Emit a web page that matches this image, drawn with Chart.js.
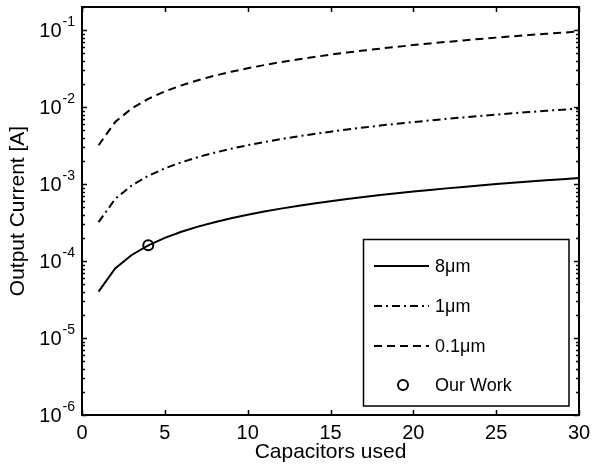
<!DOCTYPE html>
<html>
<head>
<meta charset="utf-8">
<script src="https://cdn.jsdelivr.net/npm/chart.js@4/dist/chart.umd.min.js"></script>
<style>
  html, body { margin: 0; padding: 0; background: #fff; }
  canvas { display: block; }
</style>
</head>
<body>
<canvas id="chart" width="592" height="466"></canvas>
<script>
// nombre de capacités (axe x)
const capacitors = [1, 2, 3, 4, 5, 6, 7, 8, 9, 10, 11, 12, 13, 14, 15,
                    16, 17, 18, 19, 20, 21, 22, 23, 24, 25, 26, 27, 28, 29, 30];

// courant de sortie [A]
const current8um = [4.0e-5, 8.0e-5, 1.2e-4, 1.6e-4, 2.0e-4, 2.4e-4, 2.8e-4, 3.2e-4, 3.6e-4, 4.0e-4,
                    4.4e-4, 4.8e-4, 5.2e-4, 5.6e-4, 6.0e-4, 6.4e-4, 6.8e-4, 7.2e-4, 7.6e-4, 8.0e-4,
                    8.4e-4, 8.8e-4, 9.2e-4, 9.6e-4, 1.0e-3, 1.04e-3, 1.08e-3, 1.12e-3, 1.16e-3, 1.2e-3];
const current1um = [3.2e-4, 6.4e-4, 9.6e-4, 1.28e-3, 1.6e-3, 1.92e-3, 2.24e-3, 2.56e-3, 2.88e-3, 3.2e-3,
                    3.52e-3, 3.84e-3, 4.16e-3, 4.48e-3, 4.8e-3, 5.12e-3, 5.44e-3, 5.76e-3, 6.08e-3, 6.4e-3,
                    6.72e-3, 7.04e-3, 7.36e-3, 7.68e-3, 8.0e-3, 8.32e-3, 8.64e-3, 8.96e-3, 9.28e-3, 9.6e-3];
const current01um = [3.2e-3, 6.4e-3, 9.6e-3, 0.0128, 0.016, 0.0192, 0.0224, 0.0256, 0.0288, 0.032,
                     0.0352, 0.0384, 0.0416, 0.0448, 0.048, 0.0512, 0.0544, 0.0576, 0.0608, 0.064,
                     0.0672, 0.0704, 0.0736, 0.0768, 0.08, 0.0832, 0.0864, 0.0896, 0.0928, 0.096];

// point "Our Work"
const ourWorkX = [4];
const ourWorkY = [1.6e-4];

// graduations
const xTicks = [0, 5, 10, 15, 20, 25, 30];
const yDecades = [-6, -5, -4, -3, -2, -1];

const seriesLabels = ['8\u03bcm', '1\u03bcm', '0.1\u03bcm', 'Our Work'];

const FONT = '"Liberation Sans", Arial, Helvetica, sans-serif';

function toPoints(xs, ys) {
    return xs.map((x, i) => ({ x: x, y: ys[i] }));
}

// ======================================================
// Cadre, graduations internes, labels 10^n et légende
// ======================================================
const matlabAxes = {
    id: 'matlabAxes',
    afterDatasetsDraw(chart) {
        const ctx = chart.ctx;
        const area = chart.chartArea;
        const xs = chart.scales.x;
        const ys = chart.scales.y;

        ctx.save();
        ctx.strokeStyle = '#000';
        ctx.lineWidth = 2;
        ctx.setLineDash([]);
        ctx.strokeRect(area.left, area.top, area.right - area.left, area.bottom - area.top);

        ctx.lineWidth = 1.5;
        ctx.beginPath();
        // ticks x (bas + haut)
        xTicks.forEach(v => {
            const px = Math.round(xs.getPixelForValue(v)) + 0.5;
            ctx.moveTo(px, area.bottom); ctx.lineTo(px, area.bottom - 5);
            ctx.moveTo(px, area.top); ctx.lineTo(px, area.top + 5);
        });
        // ticks y majeurs + mineurs (gauche + droite)
        yDecades.forEach(e => {
            for (let m = 1; m <= 9; m++) {
                const v = m * Math.pow(10, e);
                if (v > ys.max + 1e-12) continue;
                const py = Math.round(ys.getPixelForValue(v)) + 0.5;
                const len = m === 1 ? 5 : 3;
                ctx.moveTo(area.left, py); ctx.lineTo(area.left + len, py);
                ctx.moveTo(area.right, py); ctx.lineTo(area.right - len, py);
            }
        });
        ctx.stroke();

        // labels 10^n
        ctx.fillStyle = '#000';
        ctx.textAlign = 'right';
        ctx.textBaseline = 'middle';
        yDecades.forEach(e => {
            const py = ys.getPixelForValue(Math.pow(10, e));
            const sup = String(e);
            ctx.font = '14px ' + FONT;
            const supW = ctx.measureText(sup).width;
            const xr = area.left - 7;
            ctx.fillText(sup, xr, py - 8);
            ctx.font = '20px ' + FONT;
            ctx.fillText('10', xr - supW - 1, py + 1);
        });

        // légende
        const box = { left: 363.5, top: 239.5, right: 569, bottom: 406 };
        ctx.fillStyle = '#fff';
        ctx.fillRect(box.left, box.top, box.right - box.left, box.bottom - box.top);
        ctx.lineWidth = 1.5;
        ctx.strokeRect(box.left, box.top, box.right - box.left, box.bottom - box.top);

        const rows = [266, 306, 346, 385];
        ctx.font = '18px ' + FONT;
        ctx.textAlign = 'left';
        chart.data.datasets.forEach((ds, i) => {
            const y = rows[i];
            if (ds.showLine === false) {
                ctx.setLineDash([]);
                ctx.lineWidth = ds.borderWidth;
                ctx.beginPath();
                ctx.arc(403, y, ds.pointRadius, 0, Math.PI * 2);
                ctx.stroke();
            } else {
                ctx.setLineDash(ds.borderDash || []);
                ctx.lineWidth = ds.borderWidth;
                ctx.beginPath();
                ctx.moveTo(374, y);
                ctx.lineTo(429, y);
                ctx.stroke();
            }
            ctx.setLineDash([]);
            ctx.fillStyle = '#000';
            ctx.fillText(ds.label, 435, y + 1);
        });
        ctx.restore();
    }
};

const ctx = document.getElementById('chart').getContext('2d');

new Chart(ctx, {
    type: 'line',
    data: {
        datasets: [
            {
                label: seriesLabels[0],
                data: toPoints(capacitors, current8um),
                borderColor: '#000',
                borderWidth: 2,
                pointRadius: 0,
                fill: false,
                tension: 0
            },
            {
                label: seriesLabels[1],
                data: toPoints(capacitors, current1um),
                borderColor: '#000',
                borderWidth: 2,
                borderDash: [8, 4, 2, 4],
                pointRadius: 0,
                fill: false,
                tension: 0
            },
            {
                label: seriesLabels[2],
                data: toPoints(capacitors, current01um),
                borderColor: '#000',
                borderWidth: 2,
                borderDash: [8, 5],
                pointRadius: 0,
                fill: false,
                tension: 0
            },
            {
                label: seriesLabels[3],
                data: toPoints(ourWorkX, ourWorkY),
                showLine: false,
                borderColor: '#000',
                backgroundColor: 'rgba(0,0,0,0)',
                borderWidth: 2,
                pointStyle: 'circle',
                pointRadius: 5,
                pointBorderWidth: 2
            }
        ]
    },
    options: {
        responsive: false,
        animation: false,
        layout: { padding: { top: 6, right: 13, left: 0, bottom: 0 } },
        plugins: {
            legend: { display: false },
            tooltip: { enabled: false }
        },
        scales: {
            x: {
                type: 'linear',
                min: 0,
                max: 30,
                grid: { display: false, drawTicks: false },
                border: { display: false },
                ticks: {
                    stepSize: 5,
                    padding: 6,
                    color: '#000',
                    font: { family: FONT, size: 20 }
                },
                title: {
                    display: true,
                    text: 'Capacitors used',
                    color: '#000',
                    font: { family: FONT, size: 21 },
                    padding: { top: 0, bottom: 1 }
                },
                afterFit(scale) {
                    scale.height = 51;
                    scale.paddingLeft = 0;
                    scale.paddingRight = 0;
                }
            },
            y: {
                type: 'logarithmic',
                min: 1e-6,
                max: 0.2,
                grid: { display: false, drawTicks: false },
                border: { display: false },
                ticks: { display: false },
                title: {
                    display: true,
                    text: 'Output Current [A]',
                    color: '#000',
                    font: { family: FONT, size: 21 },
                    padding: { top: 6, bottom: 0 }
                },
                afterFit(scale) {
                    scale.width = 82;
                    scale.paddingTop = 0;
                    scale.paddingBottom = 0;
                }
            }
        }
    },
    plugins: [matlabAxes]
});
</script>
</body>
</html>
